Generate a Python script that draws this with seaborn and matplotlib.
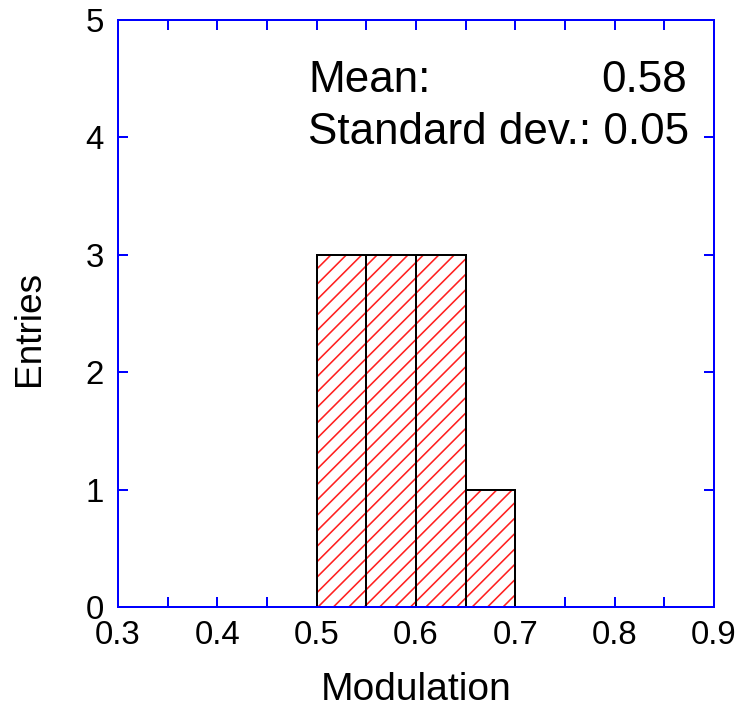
import matplotlib
matplotlib.use("Agg")
import matplotlib.pyplot as plt
from matplotlib.ticker import MultipleLocator
import seaborn as sns

# Histogram of modulation values (bin edges and entries per bin)
bin_edges = [0.50, 0.55, 0.60, 0.65, 0.70]
entries = [3, 3, 3, 1]
mean_text = "0.58"
std_text = "0.05"

x_ticks = [0.3, 0.4, 0.5, 0.6, 0.7, 0.8, 0.9]
y_ticks = [0, 1, 2, 3, 4, 5]

DPI = 185
W, H = 739, 707


def pt(px):
    """pixels -> points at the output resolution"""
    return px * 72 / DPI


sns.set_theme(style="white")
plt.rcParams["font.family"] = ["Liberation Sans", "DejaVu Sans"]
plt.rcParams["text.color"] = "black"
plt.rcParams["axes.labelcolor"] = "black"
plt.rcParams["hatch.linewidth"] = pt(1.6)

fig = plt.figure(figsize=(W / DPI, H / DPI), dpi=DPI)
ax = fig.add_axes([118 / W, 1 - 607 / H, (714 - 118) / W, (607 - 20) / H])

centers = [(a + b) / 2 for a, b in zip(bin_edges[:-1], bin_edges[1:])]

# red hatched fill
sns.histplot(x=centers, weights=entries, bins=bin_edges, ax=ax,
             color="white", edgecolor="#ff2020", linewidth=0, hatch="////",
             fill=True, alpha=1)
n_fill = len(ax.patches)
for p in ax.patches:
    p.set_facecolor("white")
    p.set_edgecolor("#ff2020")
    p.set_linewidth(0)

# black bar outlines
sns.histplot(x=centers, weights=entries, bins=bin_edges, ax=ax,
             fill=False, element="bars")
for p in ax.patches[n_fill:]:
    p.set_edgecolor("black")
    p.set_facecolor("none")
    p.set_linewidth(pt(2.0))

ax.set_xlim(0.3, 0.9)
ax.set_ylim(0, 5)
ax.set_xticks(x_ticks)
ax.set_xticklabels([f"{v:.1f}" for v in x_ticks])
ax.xaxis.set_minor_locator(MultipleLocator(0.05))
ax.set_yticks(y_ticks)
ax.set_yticklabels([str(v) for v in y_ticks])

for s in ax.spines.values():
    s.set_color("#0000ff")
    s.set_linewidth(pt(2.0))
    s.set_visible(True)

ax.tick_params(axis="both", which="both", direction="in", color="#0000ff",
               width=pt(2.0), length=pt(10), top=True, right=True,
               bottom=True, left=True, labelsize=pt(33), labelcolor="black")
ax.tick_params(axis="x", which="major", pad=pt(13))
ax.tick_params(axis="y", which="major", pad=pt(14))

ax.set_xlabel("")
ax.set_ylabel("")
fig.text(416 / W, 1 - 690 / H, "Modulation", fontsize=pt(39),
         ha="center", va="center")
fig.text(30 / W, 1 - 328 / H, "Entries", fontsize=pt(37), rotation=90,
         ha="center", va="center")

fs_stats = pt(44)
fig.text(308 / W, 1 - 80 / H, "Mean:", fontsize=fs_stats, ha="left", va="center")
fig.text(687 / W, 1 - 80 / H, mean_text, fontsize=fs_stats, ha="right", va="center")
fig.text(308 / W, 1 - 133 / H, "Standard dev.: " + std_text,
         fontsize=fs_stats, ha="left", va="center")

fig.savefig("out.png", dpi=DPI)
